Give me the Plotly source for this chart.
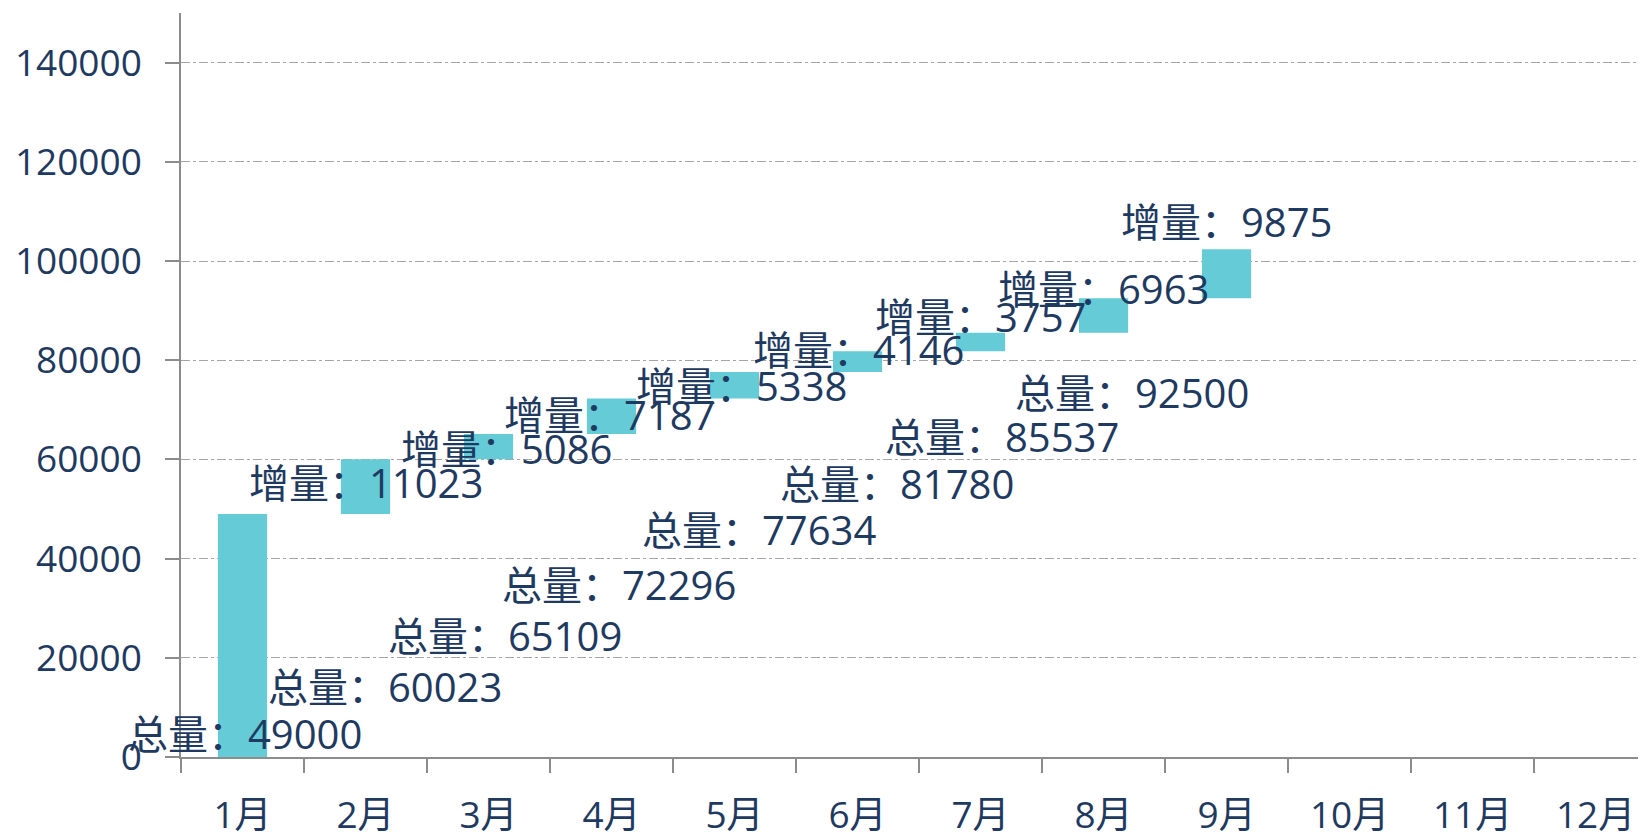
import numpy as np
import plotly.graph_objects as go

# ---- data ----
months = ["1月", "2月", "3月", "4月", "5月", "6月", "7月", "8月", "9月", "10月", "11月", "12月"]
start_total = 49000
increments = [11023, 5086, 7187, 5338, 4146, 3757, 6963, 9875]   # 2月..9月
total_label = "总量："
inc_label = "增量："

# ---- derived ----
cum = np.cumsum([start_total] + increments)          # totals after each month (1月..9月)
bar_base = [0] + list(cum[:-1])                      # floating bar bottoms
bar_len = [start_total] + increments
bar_x = months[:len(bar_len)]

# label placement (pixel shifts, layout only)
tot_xshift = [2, 19, 16, 7, 24, 39, 21, 28]
tot_yshift = [24, 71, 122, 173, 228, 274, 321, 365]
inc_xshift = [0, 18, -2, 7, 1, 0, 0, 0]
inc_yshift = [4, -2, 2, 0, 12, 26, 27, 52]

NAVY = "#1F3A60"
BAR = "#64CBD7"
FONT = "Open Sans, Noto Sans CJK SC, sans-serif"

fig = go.Figure()
fig.add_trace(go.Bar(
    x=bar_x, y=bar_len, base=bar_base,
    width=0.4, marker=dict(color=BAR, line=dict(width=0)),
    hoverinfo="skip", showlegend=False,
))

ann = []
for i in range(len(cum) - 1):
    ann.append(dict(
        x=months[i], y=0, xref="x", yref="y",
        text=f"{total_label}{cum[i]}", showarrow=False,
        xshift=tot_xshift[i], yshift=tot_yshift[i],
        font=dict(family=FONT, size=40, color=NAVY),
    ))
for j, inc in enumerate(increments):
    b = bar_base[j + 1]
    ann.append(dict(
        x=months[j + 1], y=b + inc / 2, xref="x", yref="y",
        text=f"{inc_label}{inc}", showarrow=False,
        xshift=inc_xshift[j], yshift=inc_yshift[j],
        font=dict(family=FONT, size=40, color=NAVY),
    ))

fig.update_layout(
    width=1638, height=827,
    margin=dict(l=173, r=0, t=5, b=78),
    paper_bgcolor="white", plot_bgcolor="white",
    font=dict(family=FONT, color=NAVY, size=37),
    annotations=ann,
    bargap=0.6,
)
fig.update_xaxes(
    type="category", categoryorder="array", categoryarray=months,
    range=[-0.5, 11.41], automargin=False,
    showgrid=False, showline=True, linecolor="#8C8C8C", linewidth=1.5,
    ticks="outside", tickson="boundaries", ticklen=14, tickcolor="#8C8C8C", tickwidth=1.5,
    tickfont=dict(family=FONT, size=37, color=NAVY),
    ticklabelstandoff=25,
    zeroline=False,
)
fig.update_yaxes(
    range=[0, 150000], dtick=20000, tick0=0, automargin=False,
    showgrid=True, gridcolor="#A6A6A6", gridwidth=1, griddash="dashdot",
    showline=True, linecolor="#8C8C8C", linewidth=1.5,
    ticks="outside", ticklen=14, tickcolor="#8C8C8C", tickwidth=1.5,
    tickfont=dict(family=FONT, size=37, color=NAVY),
    ticklabelstandoff=16,
    zeroline=False, tickformat="d",
)

fig.write_html("out.html")
